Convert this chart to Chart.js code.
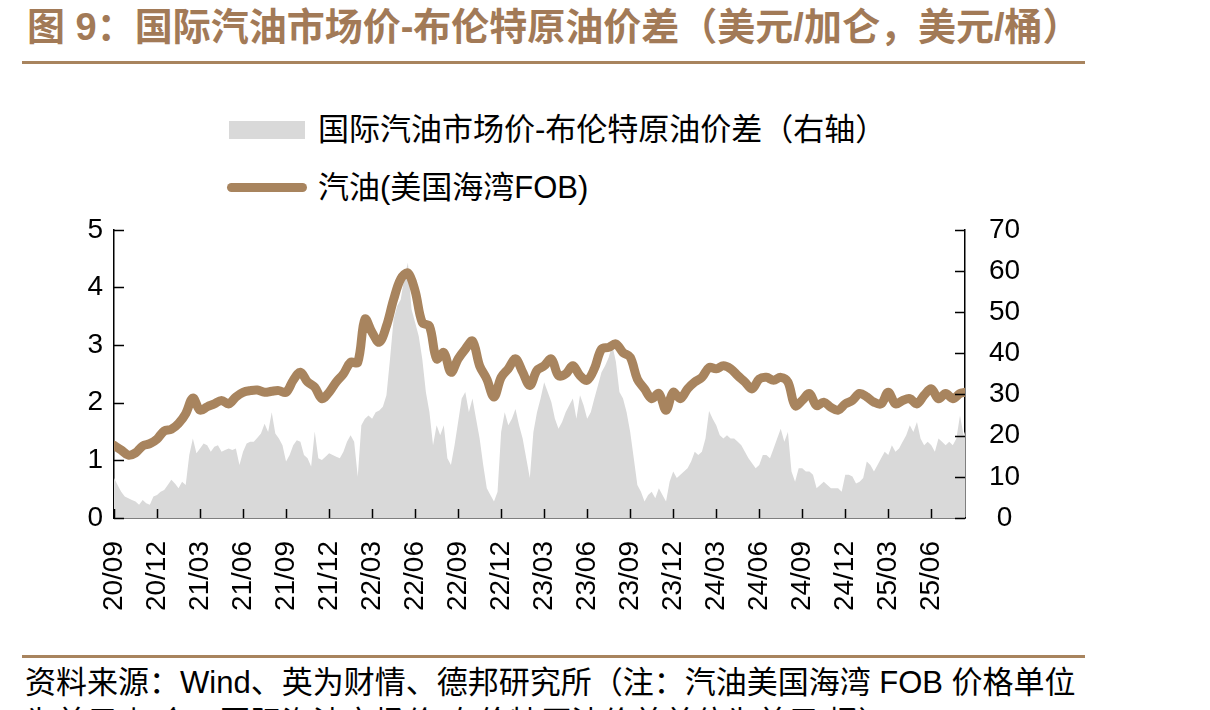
<!DOCTYPE html>
<html lang="zh-CN">
<head>
<meta charset="utf-8">
<title>国际汽油市场价-布伦特原油价差</title>
<script src="https://cdn.jsdelivr.net/npm/chart.js@4.4.1/dist/chart.umd.min.js"></script>
<style>
  html, body { margin: 0; padding: 0; background: #fff; }
  body {
    width: 1210px; height: 710px; position: relative; overflow: hidden;
    font-family: "Liberation Sans", "Noto Sans CJK SC", sans-serif;
  }
  .title {
    position: absolute; left: 27px; top: 8px;
    font-family: "Liberation Sans", "Noto Sans CJK SC", sans-serif;
    font-size: 38px; line-height: 38px; font-weight: bold; color: #A27A57;
    white-space: nowrap;
  }
  .rule { position: absolute; left: 22px; width: 1063px; height: 3px; background: #A8845E; }
  .legend { position: absolute; left: 229px; top: 110px; }
  .legend .item { position: relative; height: 40px; margin-bottom: 18px; }
  .legend .swatch { position: absolute; left: 0; }
  .legend .text {
    position: absolute; left: 89px; top: 0; line-height: 40px;
    font-size: 31px; color: #000; white-space: nowrap;
  }
  .source {
    position: absolute; left: 25px; top: 663px;
    font-size: 31px; line-height: 40px; color: #000; white-space: nowrap;
  }
  #wrap { position: absolute; left: 0; top: 189px; width: 1210px; height: 451px; }
</style>
</head>
<body>
<div class="title">图 9：国际汽油市场价-布伦特原油价差（美元/加仑，美元/桶）</div>
<div class="rule" style="top:61px"></div>
<div class="legend" id="legend"></div>
<div id="wrap"><canvas id="chart" width="1210" height="451"></canvas></div>
<div class="rule" style="top:655px"></div>
<div class="source">资料来源：Wind、英为财情、德邦研究所（注：汽油美国海湾 FOB 价格单位<br>为美元/加仑，国际汽油市场价-布伦特原油价差单位为美元/桶）</div>

<script>
// x 轴单位：自 2020/09 起的月数
var X_MAX = 59.35;
var tickLabels = ['20/09', '20/12', '21/03', '21/06', '21/09', '21/12', '22/03', '22/06', '22/09', '22/12',
  '23/03', '23/06', '23/09', '23/12', '24/03', '24/06', '24/09', '24/12', '25/03', '25/06'];

// 汽油(美国海湾FOB)，美元/加仑，每半个月一个点
var GAS_STEP = 0.5;
var gasoline = [
  1.26, 1.18, 1.09, 1.13, 1.25, 1.29, 1.37, 1.51, 1.54, 1.64,
  1.81, 2.08, 1.87, 1.93, 1.98, 2.04, 1.98, 2.10, 2.18, 2.21,
  2.22, 2.18, 2.20, 2.21, 2.18, 2.39, 2.53, 2.36, 2.27, 2.07,
  2.18, 2.36, 2.50, 2.70, 2.70, 3.45, 3.22, 3.05, 3.33, 3.79,
  4.15, 4.25, 3.94, 3.39, 3.33, 2.76, 2.87, 2.53, 2.76, 2.93,
  3.07, 2.64, 2.41, 2.10, 2.44, 2.59, 2.76, 2.53, 2.30, 2.56,
  2.64, 2.76, 2.47, 2.50, 2.64, 2.47, 2.39, 2.59, 2.93, 2.96,
  3.02, 2.87, 2.79, 2.41, 2.24, 2.07, 2.16, 1.87, 2.18, 2.07,
  2.24, 2.36, 2.44, 2.61, 2.59, 2.64, 2.59, 2.47, 2.36, 2.24,
  2.41, 2.44, 2.39, 2.44, 2.36, 1.95, 2.04, 2.16, 1.95, 2.01,
  1.92, 1.87, 1.98, 2.04, 2.16, 2.10, 2.01, 1.98, 2.18, 1.98,
  2.04, 2.07, 1.98, 2.13, 2.24, 2.07, 2.16, 2.07, 2.16, 2.18
];

// 国际汽油市场价-布伦特原油价差，美元/桶（右轴），每 1/4 个月一个点
var SPREAD_STEP = 0.25;
var spread = [
  9.7, 8.0, 6.4, 5.2, 4.8, 4.4, 4.0, 3.2, 4.4, 3.6,
  3.2, 5.2, 5.6, 6.4, 6.8, 8.0, 9.3, 8.4, 7.2, 8.8,
  8.0, 15.3, 19.3, 15.7, 16.9, 18.1, 17.7, 16.1, 17.3, 17.7,
  16.1, 16.5, 16.9, 16.5, 16.9, 12.9, 16.1, 18.1, 18.5, 18.5,
  19.5,
  20.5, 22.9, 20.9, 25.7, 20.5, 19.3, 17.7, 13.7, 15.3, 17.7,
  18.9, 18.5, 15.3, 14.5, 12.5, 21.0, 14.5, 14.1, 14.9, 15.7,
  15.3, 14.9, 14.5, 16.1, 18.5, 20.1, 18.5, 10.0, 22.5, 24.1,
  24.9, 24.1, 25.7, 26.1, 27.0, 29.8, 38.6, 48.3, 51.5, 53.1,
  58.7, 62.0, 50.7, 47.5, 44.2, 38.6, 30.6, 25.7, 17.7, 22.5,
  20.1, 22.5, 14.5, 12.9, 17.7, 23.3, 29.0, 30.6, 25.7, 29.0,
  24.1, 19.3, 12.9, 7.2, 5.6, 4.0, 6.4, 20.9, 25.7, 22.5,
  24.1, 26.5, 22.5, 19.3, 14.5, 9.7, 20.9, 25.7, 29.0, 33.0,
  30.6, 28.2, 24.1, 21.7, 23.3, 25.7, 27.4, 29.0, 24.1, 29.8,
  27.4, 24.1, 25.7, 29.0, 32.2, 35.4, 37.0, 39.0, 42.0, 38.0,
  30.6, 29.0, 25.7, 20.9, 14.5, 8.0, 6.4, 4.0, 5.6, 6.4,
  4.8, 7.2, 5.6, 4.0, 8.8, 11.3, 9.7, 10.5, 11.3, 12.1,
  13.7, 16.1, 15.3, 16.1, 19.3, 26.0, 24.1, 22.5, 20.1, 19.3,
  20.1, 19.3, 19.3, 18.5, 17.7, 16.1, 14.5, 13.3, 12.1, 12.9,
  15.3, 15.3, 14.5, 16.9, 19.3, 21.7, 18.5, 20.9, 11.3, 8.8,
  12.1, 12.1, 11.3, 11.3, 10.5, 7.2, 8.0, 8.8, 8.0, 7.2,
  7.2, 7.2, 6.4, 10.5, 10.5, 10.1, 8.4, 8.8, 9.7, 13.7,
  12.9, 11.3, 12.9, 14.5, 16.1, 15.3, 17.7, 16.1, 16.9, 18.5,
  20.1, 22.5, 20.9, 23.3, 19.3, 17.7, 18.5, 17.7, 16.1, 19.3,
  18.5, 17.7, 18.5, 17.7, 19.3, 24.9, 20.1, 21.0
];

var GAS_COLOR = '#A8845E';
var SPREAD_COLOR = '#D9D9D9';
var TICK_FONT = { family: '"Liberation Sans", Arial, sans-serif', size: 28 };

function toPoints(values, step) {
  return values.map(function (v, i) {
    return { x: Math.min(i * step, X_MAX), y: v };
  });
}

// 刻度线朝内
var innerTicks = {
  id: 'innerTicks',
  afterDatasetsDraw: function (chart) {
    var ctx = chart.ctx;
    var a = chart.chartArea;
    var s = chart.scales;
    ctx.save();
    ctx.strokeStyle = '#000';
    ctx.lineWidth = 1.5;
    ctx.beginPath();
    s.x.ticks.forEach(function (t) {
      var px = Math.round(s.x.getPixelForValue(t.value)) + 0.5;
      ctx.moveTo(px, a.bottom);
      ctx.lineTo(px, a.bottom - 9);
    });
    s.y.ticks.forEach(function (t) {
      var py = Math.round(s.y.getPixelForValue(t.value)) + 0.5;
      ctx.moveTo(a.left, py);
      ctx.lineTo(a.left + 10, py);
    });
    s.y1.ticks.forEach(function (t) {
      var py = Math.round(s.y1.getPixelForValue(t.value)) + 0.5;
      ctx.moveTo(a.right, py);
      ctx.lineTo(a.right - 10, py);
    });
    ctx.stroke();
    ctx.restore();
  }
};

var chart = new Chart(document.getElementById('chart'), {
  type: 'line',
  data: {
    datasets: [
      {
        label: '国际汽油市场价-布伦特原油价差（右轴）',
        data: toPoints(spread, SPREAD_STEP),
        yAxisID: 'y1',
        fill: 'origin',
        backgroundColor: SPREAD_COLOR,
        borderWidth: 0,
        pointRadius: 0,
        tension: 0,
        order: 2
      },
      {
        label: '汽油(美国海湾FOB)',
        data: toPoints(gasoline, GAS_STEP),
        yAxisID: 'y',
        fill: false,
        borderColor: GAS_COLOR,
        borderWidth: 9,
        borderCapStyle: 'round',
        borderJoinStyle: 'round',
        pointRadius: 0,
        tension: 0.35,
        order: 1
      }
    ]
  },
  options: {
    responsive: false,
    animation: false,
    devicePixelRatio: 1,
    layout: { padding: 0 },
    plugins: { legend: { display: false }, tooltip: { enabled: false } },
    scales: {
      x: {
        type: 'linear',
        min: 0,
        max: X_MAX,
        grid: { display: false, drawTicks: false },
        border: { display: true, color: '#000', width: 1.5 },
        ticks: {
          stepSize: 3,
          includeBounds: false,
          autoSkip: false,
          minRotation: 90,
          maxRotation: 90,
          padding: 23,
          color: '#000',
          font: TICK_FONT,
          callback: function (v) {
            var i = Math.round(v / 3);
            return tickLabels[i] || '';
          }
        },
        afterFit: function (s) { s.height = 122; }
      },
      y: {
        position: 'left',
        min: 0,
        max: 5,
        grid: { display: false, drawTicks: false },
        border: { display: true, color: '#000', width: 1.5 },
        ticks: { stepSize: 1, padding: 11, color: '#000', font: TICK_FONT },
        afterFit: function (s) { s.width = 114; }
      },
      y1: {
        position: 'right',
        min: 0,
        max: 70,
        grid: { display: false, drawTicks: false },
        border: { display: true, color: '#000', width: 1.5 },
        ticks: { stepSize: 10, padding: 24, crossAlign: 'center', color: '#000', font: TICK_FONT },
        afterFit: function (s) { s.width = 1210 - 965; }
      }
    }
  },
  plugins: [innerTicks]
});

// 图例（纵向排列）
var legendBox = document.getElementById('legend');
chart.data.datasets.forEach(function (ds) {
  var item = document.createElement('div');
  item.className = 'item';
  var sw = document.createElement('div');
  sw.className = 'swatch';
  if (ds.fill) {
    sw.style.cssText = 'top:11px;width:76px;height:18px;background:' + ds.backgroundColor;
  } else {
    sw.style.cssText = 'top:15px;left:-2px;width:80px;height:9px;border-radius:5px;background:' + ds.borderColor;
  }
  var tx = document.createElement('div');
  tx.className = 'text';
  tx.textContent = ds.label;
  item.appendChild(sw);
  item.appendChild(tx);
  legendBox.appendChild(item);
});
</script>
</body>
</html>
